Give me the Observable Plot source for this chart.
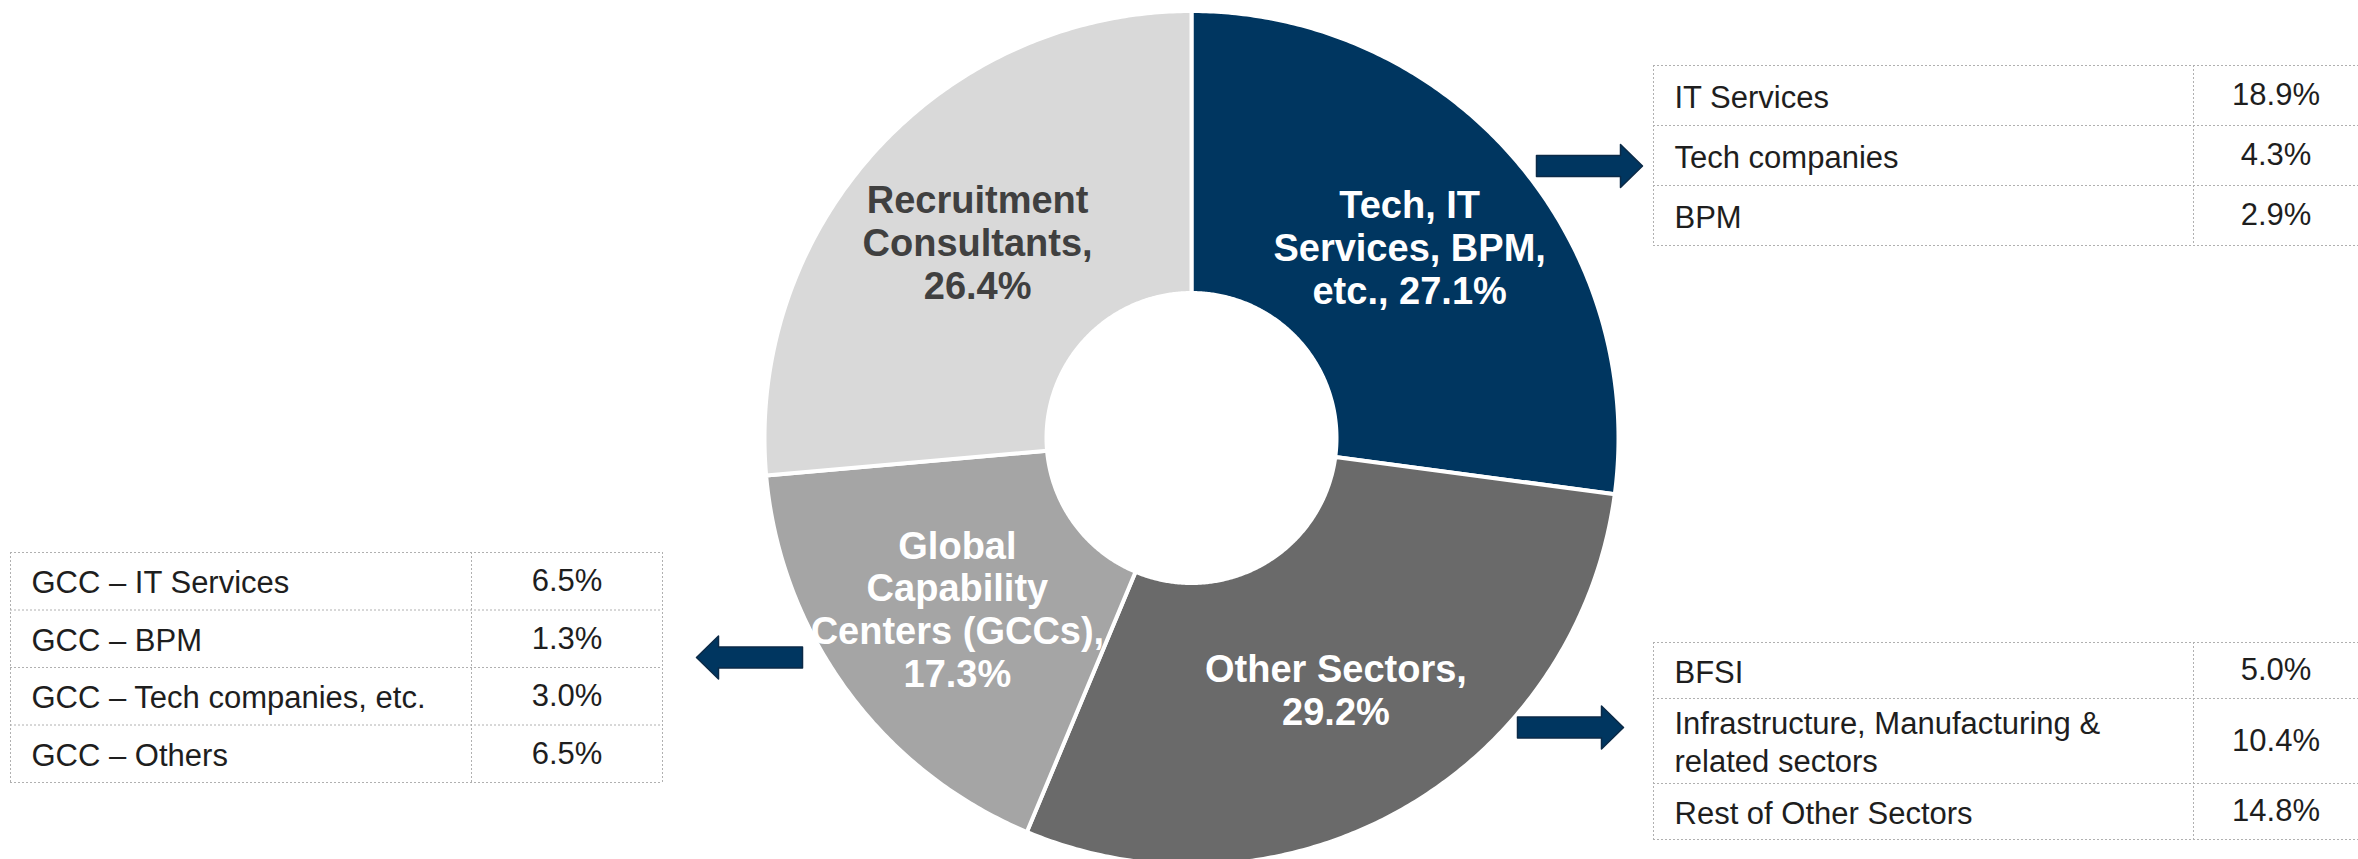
<!DOCTYPE html>
<html><head><meta charset="utf-8">
<script src="https://cdn.jsdelivr.net/npm/d3@7"></script>
<script src="https://cdn.jsdelivr.net/npm/@observablehq/plot@0.6"></script>
<style>html,body{margin:0;padding:0;background:#fff;overflow:hidden}</style>
</head><body><div id="chart"></div>
<script>
// ---- Data ----
const sliceNames = ["Tech, IT\nServices, BPM,\netc.,", "Other Sectors,", "Global\nCapability\nCenters (GCCs),", "Recruitment\nConsultants,"];
const sliceValues = [27.1, 29.2, 17.3, 26.4];
const sliceSep = [" ", "\n", "\n", "\n"];
const sliceColors = ["#003660", "#6a6a6a", "#a5a5a5", "#d9d9d9"];
const sliceTextColors = ["#ffffff", "#ffffff", "#ffffff", "#404040"];

const techLabels = ["IT Services", "Tech companies", "BPM"];
const techValues = [18.9, 4.3, 2.9];

const otherLabels = ["BFSI", "Infrastructure, Manufacturing &\nrelated sectors", "Rest of Other Sectors"];
const otherValues = [5.0, 10.4, 14.8];

const gccLabels = ["GCC \u2013 IT Services", "GCC \u2013 BPM", "GCC \u2013 Tech companies, etc.", "GCC \u2013 Others"];
const gccValues = [6.5, 1.3, 3.0, 6.5];

// ---- Layout ----
const W = 2358, H = 859;
const cx = 1191, cy = 437.5, rOuter = 427, rInner = 145, rLabel = 290;

const total = d3.sum(sliceValues);
let acc = 0;
const slices = sliceValues.map((v, i) => {
  const a0 = acc / total * 2 * Math.PI; acc += v;
  const a1 = acc / total * 2 * Math.PI;
  return {i, value: v, a0, a1, mid: (a0 + a1) / 2,
    label: sliceNames[i] + sliceSep[i] + v.toFixed(1) + "%"};
});
function arcPoints(s) {
  const pts = [];
  const n = Math.max(2, Math.ceil((s.a1 - s.a0) / (Math.PI / 360)));
  for (let k = 0; k <= n; k++) { const a = s.a0 + (s.a1 - s.a0) * k / n; pts.push({px: cx + rOuter * Math.sin(a), py: cy - rOuter * Math.cos(a)}); }
  for (let k = n; k >= 0; k--) { const a = s.a0 + (s.a1 - s.a0) * k / n; pts.push({px: cx + rInner * Math.sin(a), py: cy - rInner * Math.cos(a)}); }
  return pts;
}

function buildTable(labels, values, x0, xd, x1, y0, baseH, lineH) {
  let y = y0;
  const rows = labels.map((l, i) => {
    const lines = l.split("\n").length;
    const h = baseH + (lines - 1) * lineH;
    const r = {label: l, value: values[i].toFixed(1) + "%", top: y, bottom: y + h, yc: y + h / 2, tx: x0 + 21, vx: (xd + x1) / 2};
    y += h; return r;
  });
  const hlines = [y0, ...rows.map(r => r.bottom)].map(yy => ({y: yy, x1: x0, x2: x1}));
  return {rows, hlines, x0, xd, x1, y0, y1: y};
}
const tTech = buildTable(techLabels, techValues, 1653, 2193, 2358, 65, 60, 29);
const tOther = buildTable(otherLabels, otherValues, 1653, 2193, 2358, 642, 56, 29);
const tGcc = buildTable(gccLabels, gccValues, 10, 471, 662, 552, 57.5, 29);

const arrows = [{tx: 1642, ty: 165.5, dir: 1}, {tx: 696, ty: 657, dir: -1}, {tx: 1623, ty: 727, dir: 1}];
function arrowPoints(a) {
  const len = 106, hl = 22, hh = 21.5, sh = 10.5, d = a.dir;
  return [[a.tx, a.ty], [a.tx - d*hl, a.ty - hh], [a.tx - d*hl, a.ty - sh], [a.tx - d*len, a.ty - sh],
          [a.tx - d*len, a.ty + sh], [a.tx - d*hl, a.ty + sh], [a.tx - d*hl, a.ty + hh]].map(([px, py]) => ({px, py}));
}

const dotted = {stroke: "#b0b0b0", strokeWidth: 1, strokeDasharray: "2,2"};
function tableMarks(t, vlinesX) {
  return [
    Plot.ruleY(t.hlines, {y: "y", x1: "x1", x2: "x2", ...dotted}),
    Plot.ruleX(vlinesX, {x: d => d, y1: t.y0, y2: t.y1, ...dotted}),
    Plot.text(t.rows, {x: "tx", y: "yc", text: "label", textAnchor: "start", fontSize: 31, lineHeight: 1.22, fill: "#1e1e1e"}),
    Plot.text(t.rows, {x: "vx", y: "yc", text: "value", textAnchor: "middle", fontSize: 31, fill: "#1e1e1e"})
  ];
}

const chart = Plot.plot({
  width: W, height: H, margin: 0,
  style: {fontFamily: "'Liberation Sans', Arial, Helvetica, sans-serif", background: "#fff"},
  x: {domain: [0, W], range: [0, W], axis: null},
  y: {domain: [0, H], range: [0, H], axis: null},
  color: {type: "identity"},
  marks: [
    ...slices.map(s => Plot.line(arcPoints(s), {x: "px", y: "py", fill: sliceColors[s.i], stroke: "#ffffff", strokeWidth: 4, curve: "linear-closed"})),
    Plot.text(slices, {x: d => cx + rLabel * Math.sin(d.mid), y: d => cy - rLabel * Math.cos(d.mid), text: "label",
      fill: d => sliceTextColors[d.i], fontSize: 38, fontWeight: "bold", lineHeight: 1.13}),
    ...arrows.map(a => Plot.line(arrowPoints(a), {x: "px", y: "py", fill: "#003660", stroke: "#0b2a47", strokeWidth: 1.5, curve: "linear-closed"})),
    ...tableMarks(tTech, [tTech.x0, tTech.xd]),
    ...tableMarks(tOther, [tOther.x0, tOther.xd]),
    ...tableMarks(tGcc, [tGcc.x0, tGcc.xd, tGcc.x1])
  ]
});
document.getElementById("chart").appendChild(chart);
</script>
</body></html>
